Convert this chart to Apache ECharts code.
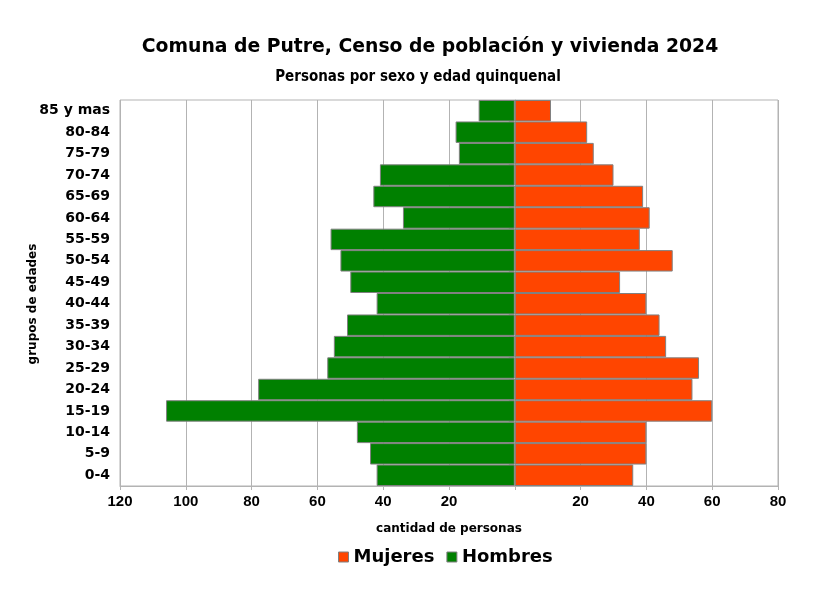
<!DOCTYPE html>
<html>
<head>
<meta charset="utf-8">
<script src="https://cdn.jsdelivr.net/npm/echarts@6/dist/echarts.min.js"></script>
<style>
html,body{margin:0;padding:0;background:#fff;}
#chart{width:832px;height:601px;}
</style>
</head>
<body>
<div id="chart"></div>
<script>
const categories = ['0-4','5-9','10-14','15-19','20-24','25-29','30-34','35-39','40-44','45-49','50-54','55-59','60-64','65-69','70-74','75-79','80-84','85 y mas'];
const hombres = [42,44,48,106,78,57,55,51,42,50,53,56,34,43,41,17,18,11];
const mujeres = [36,40,40,60,54,56,46,44,40,32,48,38,41,39,30,24,22,11];

const chart = echarts.init(document.getElementById('chart'));
chart.setOption({
  animation: false,
  backgroundColor: '#ffffff',
  title: [
    {text: 'Comuna de Putre, Censo de población y vivienda 2024', left: 425, top: 33, textAlign: 'center',
     textStyle: {fontFamily: 'DejaVu Sans', fontWeight: 'bold', fontSize: 18.8, color: '#000'}},
    {text: 'Personas por sexo y edad quinquenal', left: 413, top: 65, textAlign: 'center',
     textStyle: {fontFamily: 'Liberation Sans Narrow, DejaVu Sans Condensed', fontWeight: 'bold', fontSize: 15, color: '#000'}}
  ],
  legend: {
    data: ['Mujeres', 'Hombres'],
    left: 333, top: 543, icon: 'rect',
    itemWidth: 10, itemHeight: 10, itemGap: 12,
    itemStyle: {borderColor: '#808080', borderWidth: 1},
    textStyle: {fontFamily: 'DejaVu Sans', fontWeight: 'bold', fontSize: 18, color: '#000'}
  },
  grid: {left: 120, right: 54, top: 100, bottom: 115, show: true, borderColor: '#b3b3b3', borderWidth: 1},
  xAxis: {
    type: 'value', min: -120, max: 80, interval: 20,
    name: 'cantidad de personas', nameLocation: 'middle', nameGap: 37,
    nameTextStyle: {fontFamily: 'DejaVu Sans', fontWeight: 'bold', fontSize: 12, color: '#000'},
    axisLine: {show: true, lineStyle: {color: '#b3b3b3'}},
    axisTick: {show: true, length: 4, lineStyle: {color: '#b3b3b3'}},
    splitLine: {show: true, lineStyle: {color: '#b3b3b3'}},
    axisLabel: {
      margin: 8,
      fontFamily: 'Liberation Sans', fontWeight: 'bold', fontSize: 15, color: '#000',
      formatter: v => (v === 0 ? '' : String(Math.abs(v)))
    }
  },
  yAxis: {
    type: 'category', data: categories,
    name: 'grupos de edades', nameLocation: 'middle', nameGap: 81, nameRotate: 90,
    nameMoveOverlap: false,
    nameTextStyle: {fontFamily: 'DejaVu Sans', fontWeight: 'bold', fontSize: 12, color: '#000', padding: [0, 22, 0, 0]},
    axisLine: {show: true, lineStyle: {color: '#b3b3b3'}},
    axisTick: {show: true, length: 6, lineStyle: {color: '#b3b3b3'}},
    axisLabel: {margin: 10, fontFamily: 'DejaVu Sans', fontWeight: 'bold', fontSize: 14, color: '#000'},
    splitLine: {show: false}
  },
  series: [
    {name: 'Mujeres', type: 'bar', stack: 'p', barCategoryGap: 0, data: mujeres,
     itemStyle: {color: '#ff4500', borderColor: '#808080', borderWidth: 1}},
    {name: 'Hombres', type: 'bar', stack: 'p', barCategoryGap: 0, data: hombres.map(v => -v),
     itemStyle: {color: '#008000', borderColor: '#808080', borderWidth: 1}}
  ]
});
</script>
</body>
</html>
